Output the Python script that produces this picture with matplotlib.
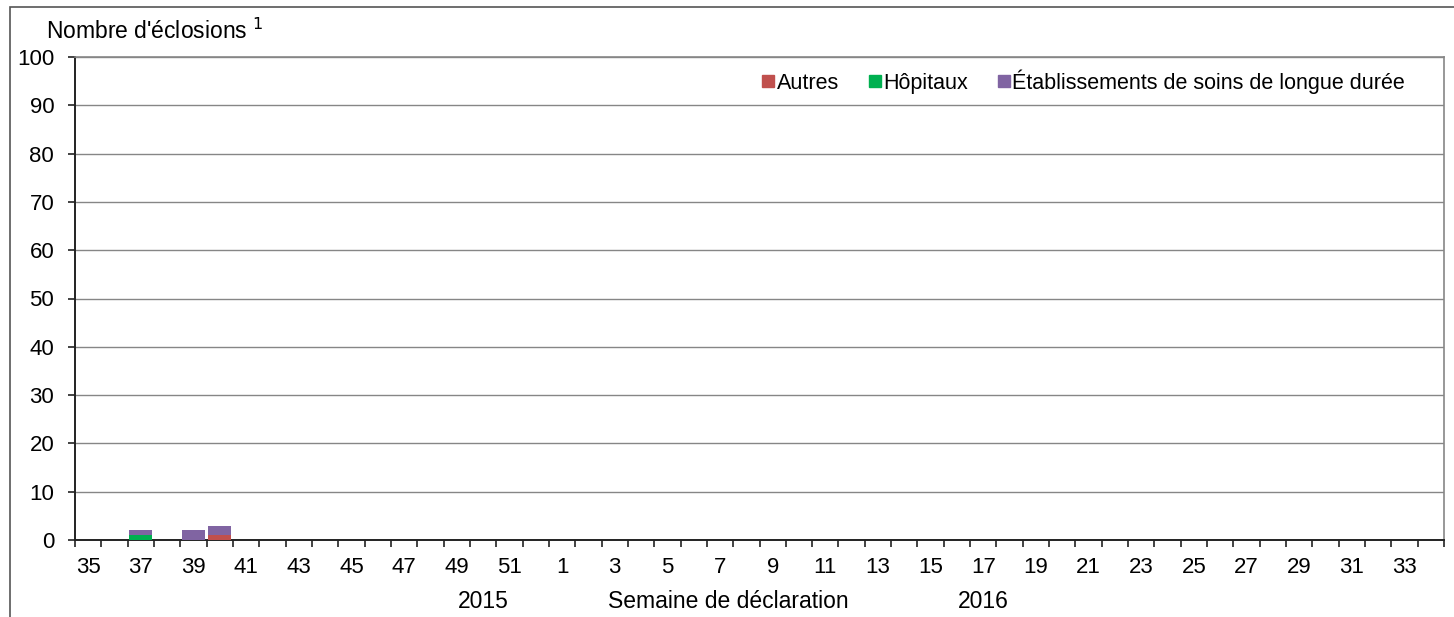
import matplotlib.pyplot as plt
from matplotlib.lines import Line2D
from matplotlib.patches import Rectangle

plt.rcParams['font.family'] = ['Liberation Sans', 'DejaVu Sans']

# semaines 35-52 de 2015 puis 1-34 de 2016
weeks = list(range(35, 53)) + list(range(1, 35))
autres = [0, 0, 0, 0, 0, 1, 0, 0, 0, 0, 0, 0, 0, 0, 0, 0, 0, 0,
          0, 0, 0, 0, 0, 0, 0, 0, 0, 0, 0, 0, 0, 0, 0, 0, 0, 0, 0, 0,
          0, 0, 0, 0, 0, 0, 0, 0, 0, 0, 0, 0, 0, 0]
hopitaux = [0, 0, 1, 0, 0, 0, 0, 0, 0, 0, 0, 0, 0, 0, 0, 0, 0, 0,
            0, 0, 0, 0, 0, 0, 0, 0, 0, 0, 0, 0, 0, 0, 0, 0, 0, 0, 0, 0,
            0, 0, 0, 0, 0, 0, 0, 0, 0, 0, 0, 0, 0, 0]
soins_longue_duree = [0, 0, 1, 0, 2, 2, 0, 0, 0, 0, 0, 0, 0, 0, 0, 0, 0, 0,
                      0, 0, 0, 0, 0, 0, 0, 0, 0, 0, 0, 0, 0, 0, 0, 0, 0, 0, 0, 0,
                      0, 0, 0, 0, 0, 0, 0, 0, 0, 0, 0, 0, 0, 0]
series_names = ["Autres", "Hôpitaux", "Établissements de soins de longue durée"]
series_colors = ["#C0504D", "#00B050", "#8064A2"]

fig = plt.figure(figsize=(14.54, 6.17), dpi=100)
ax = fig.add_axes([75 / 1454, 77 / 617, 1369 / 1454, 483 / 617])

x = list(range(len(weeks)))
bottom = [0] * len(weeks)
for vals, color in zip([autres, hopitaux, soins_longue_duree], series_colors):
    ax.bar(x, vals, width=0.87, bottom=bottom, color=color, zorder=3)
    bottom = [b + v for b, v in zip(bottom, vals)]

ax.set_xlim(-0.5, len(weeks) - 0.5)
ax.set_ylim(0, 100)
ax.set_yticks(range(0, 101, 10))
ax.yaxis.grid(True, color="#868686", linewidth=1, zorder=0)

ax.set_xticks(x[::2])
ax.set_xticklabels([str(w) for w in weeks[::2]])
ax.set_xticks([i - 0.5 for i in range(len(weeks) + 1)], minor=True)
ax.tick_params(axis="x", which="major", length=0, pad=12.5, labelsize=16)
ax.tick_params(axis="x", which="minor", length=5, width=1.2, direction="out", color="#222222")
ax.tick_params(axis="y", length=5, width=1.2, direction="out", labelsize=16, pad=10, color="#222222")

for side in ("left", "bottom"):
    ax.spines[side].set_color("#222222")
    ax.spines[side].set_linewidth(1.4)
for side in ("top", "right"):
    ax.spines[side].set_color("#868686")
    ax.spines[side].set_linewidth(1.2)

xlab_y = (540 - 601) / 483
ax.text(weeks.index(50), xlab_y, "2015", transform=ax.get_xaxis_transform(),
        ha="center", va="center", fontsize=16.5)
ax.text(weeks.index(7) + 0.3, xlab_y, "Semaine de déclaration", transform=ax.get_xaxis_transform(),
        ha="center", va="center", fontsize=16.5)
ax.text(weeks.index(17), xlab_y, "2016", transform=ax.get_xaxis_transform(),
        ha="center", va="center", fontsize=16.5)

fig.text(46 / 1454, 1 - 31 / 617, "Nombre d'éclosions $^{1}$", ha="left", va="center", fontsize=16.5)

handles = [Line2D([], [], marker="s", linestyle="none", markersize=8, color=c) for c in series_colors]
ax.legend(handles, series_names, loc="upper right", ncol=3, frameon=False, fontsize=15.5,
          handlelength=0.5, handletextpad=0.15, columnspacing=1.4,
          borderpad=0, borderaxespad=0, bbox_to_anchor=((1405 - 75) / 1369, 0.975))

# cadre extérieur
fig.patches.append(Rectangle((10 / 1454, -0.1), 1.2, 1 - 7 / 617 + 0.1,
                             transform=fig.transFigure, fill=False,
                             edgecolor="#555555", linewidth=1.2))

fig.savefig("out.png", dpi=100)
